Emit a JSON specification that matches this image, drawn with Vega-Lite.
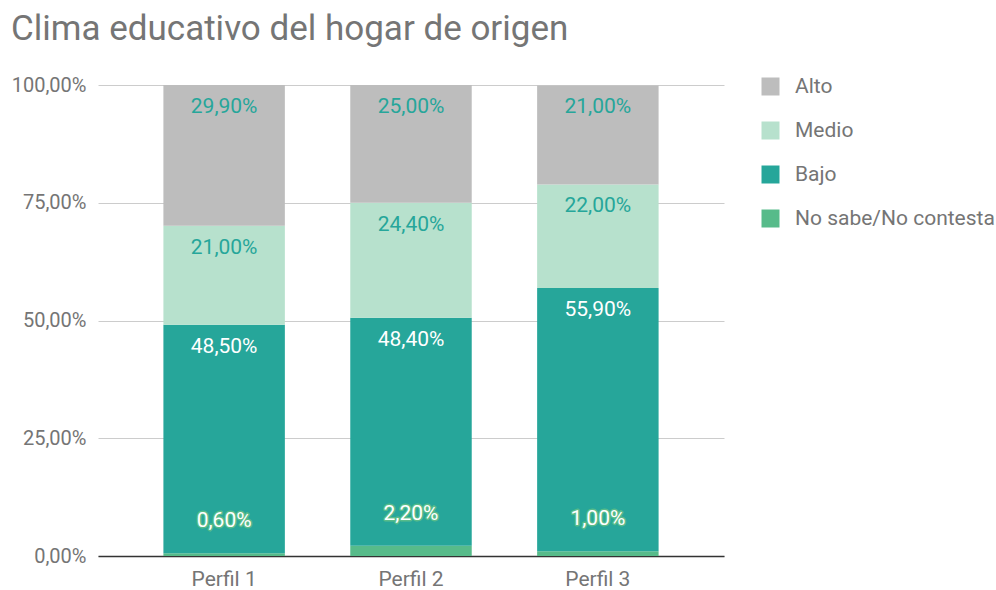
{
  "$schema": "https://vega.github.io/schema/vega-lite/v6.json",
  "width": 626,
  "height": 471,
  "autosize": "none",
  "padding": {"left": 98, "top": 85, "right": 272, "bottom": 34},
  "background": "white",
  "title": {
    "text": "Clima educativo del hogar de origen",
    "anchor": "start",
    "frame": "group",
    "dx": -87,
    "offset": 0,
    "baseline": "alphabetic",
    "font": "Roboto",
    "fontSize": 35,
    "fontWeight": "normal",
    "color": "#757575"
  },
  "data": {
    "values": [
      {"perfil": "Perfil 1", "cat": "No sabe/No contesta", "ord": 1, "v": 0.006},
      {"perfil": "Perfil 1", "cat": "Bajo", "ord": 2, "v": 0.485},
      {"perfil": "Perfil 1", "cat": "Medio", "ord": 3, "v": 0.21},
      {"perfil": "Perfil 1", "cat": "Alto", "ord": 4, "v": 0.299},
      {"perfil": "Perfil 2", "cat": "No sabe/No contesta", "ord": 1, "v": 0.022},
      {"perfil": "Perfil 2", "cat": "Bajo", "ord": 2, "v": 0.484},
      {"perfil": "Perfil 2", "cat": "Medio", "ord": 3, "v": 0.244},
      {"perfil": "Perfil 2", "cat": "Alto", "ord": 4, "v": 0.25},
      {"perfil": "Perfil 3", "cat": "No sabe/No contesta", "ord": 1, "v": 0.01},
      {"perfil": "Perfil 3", "cat": "Bajo", "ord": 2, "v": 0.559},
      {"perfil": "Perfil 3", "cat": "Medio", "ord": 3, "v": 0.22},
      {"perfil": "Perfil 3", "cat": "Alto", "ord": 4, "v": 0.21}
    ]
  },
  "transform": [
    {"stack": "v", "groupby": ["perfil"], "sort": [{"field": "ord", "order": "ascending"}], "as": ["v0", "v1"]}
  ],
  "encoding": {
    "x": {
      "field": "perfil",
      "type": "nominal",
      "scale": {"paddingInner": 0.35, "paddingOuter": 0.35},
      "axis": {
        "title": null,
        "labelAngle": 0,
        "labelFont": "Roboto",
        "labelFontSize": 21,
        "labelColor": "#757575",
        "labelPadding": 12,
        "ticks": false,
        "domain": true,
        "domainColor": "#333333",
        "domainWidth": 1.5
      }
    }
  },
  "layer": [
    {
      "mark": {"type": "bar"},
      "encoding": {
        "y": {
          "field": "v0",
          "type": "quantitative",
          "scale": {"domain": [0, 1]},
          "axis": {
            "title": null,
            "values": [0, 0.25, 0.5, 0.75, 1],
            "format": ".2%",
            "labelFont": "Roboto",
            "labelFontSize": 20,
            "labelColor": "#757575",
            "labelPadding": 12,
            "ticks": false,
            "domain": false,
            "gridColor": "#cccccc",
            "gridWidth": 1
          }
        },
        "y2": {"field": "v1"},
        "color": {
          "field": "cat",
          "type": "nominal",
          "scale": {
            "domain": ["Alto", "Medio", "Bajo", "No sabe/No contesta"],
            "range": ["#bdbdbd", "#b7e1cd", "#26a69a", "#57bb8a"]
          },
          "legend": {
            "title": null,
            "orient": "none",
            "legendX": 662,
            "legendY": -9,
            "padding": 0,
            "symbolType": "square",
            "symbolSize": 324,
            "symbolStrokeWidth": 0,
            "labelFont": "Roboto",
            "labelFontSize": 21,
            "labelColor": "#757575",
            "labelOffset": 14,
            "labelLimit": 400,
            "rowPadding": 22
          }
        }
      }
    },
    {
      "transform": [{"filter": "datum.cat !== 'No sabe/No contesta'"}],
      "mark": {"type": "text", "font": "Roboto", "fontSize": 21, "dy": 22, "baseline": "middle"},
      "encoding": {
        "y": {"field": "v1", "type": "quantitative"},
        "text": {"field": "v", "type": "quantitative", "format": ".2%"},
        "color": {"condition": {"test": "datum.cat === 'Bajo'", "value": "#ffffff"}, "value": "#26a69a"}
      }
    },
    {
      "transform": [{"filter": "datum.cat === 'No sabe/No contesta'"}],
      "mark": {"type": "text", "font": "Roboto", "fontSize": 21, "dy": -32, "baseline": "middle", "stroke": "#57bb8a", "strokeWidth": 3, "strokeJoin": "round", "fill": "#57bb8a"},
      "encoding": {
        "y": {"field": "v1", "type": "quantitative"},
        "text": {"field": "v", "type": "quantitative", "format": ".2%"}
      }
    },
    {
      "transform": [{"filter": "datum.cat === 'No sabe/No contesta'"}],
      "mark": {"type": "text", "font": "Roboto", "fontSize": 21, "dy": -32, "baseline": "middle", "fill": "#ffffff"},
      "encoding": {
        "y": {"field": "v1", "type": "quantitative"},
        "text": {"field": "v", "type": "quantitative", "format": ".2%"}
      }
    }
  ],
  "config": {
    "locale": {
      "number": {"decimal": ",", "thousands": ".", "grouping": [3], "currency": ["", " €"]}
    },
    "view": {"stroke": null}
  }
}
